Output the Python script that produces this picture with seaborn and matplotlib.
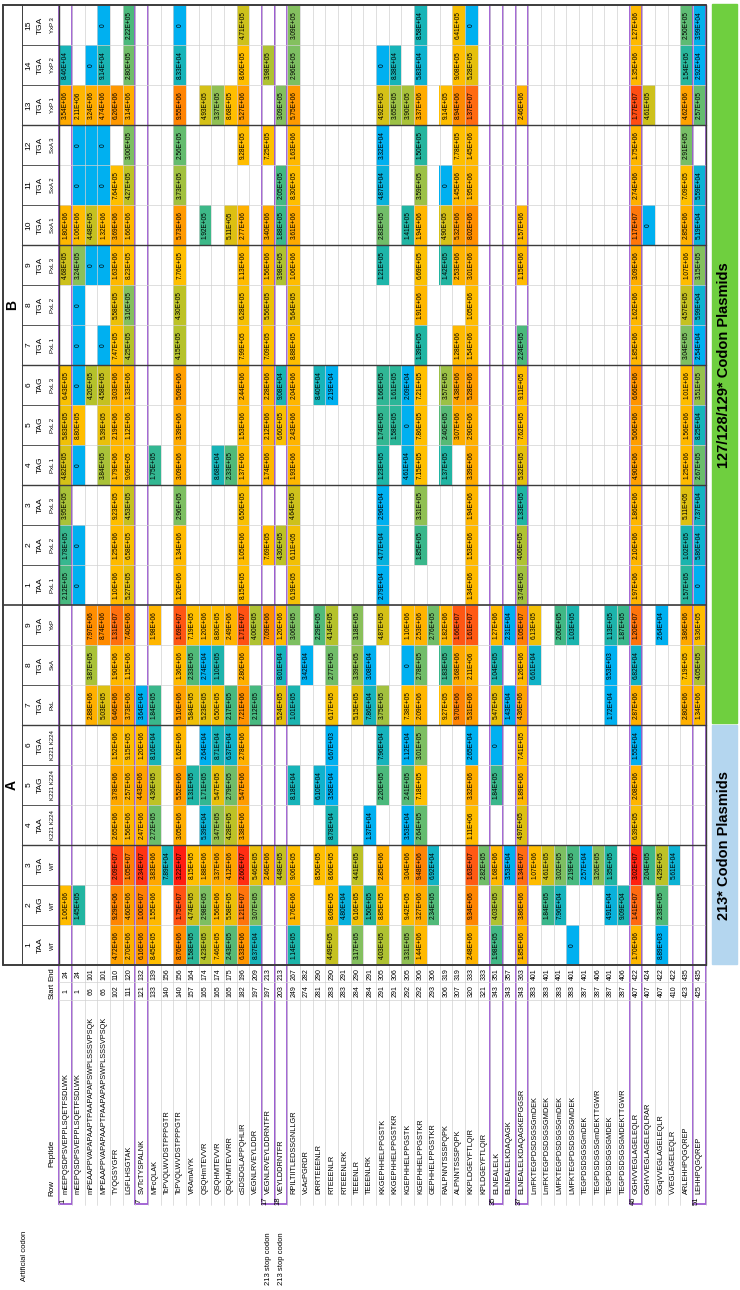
import numpy as np
import pandas as pd
import matplotlib
matplotlib.use("Agg")
import matplotlib.pyplot as plt
import seaborn as sns
from matplotlib.colors import LinearSegmentedColormap
from matplotlib.patches import Rectangle

sns.set_theme(style="white")
plt.rcParams["font.family"] = ["Liberation Sans", "DejaVu Sans"]

# ---------------------------------------------------------------
# table content
# ---------------------------------------------------------------
peptides = [
    "mEEPQSDPSVEPPLSQETFSDLWK", "mEEPQSDPSVEPPLSQETFSDLWK",
    "mPEAAPPVAPAPAAPTPAAPAPAPSWPLSSSVPSQK", "MPEAAPPVAPAPAAPTPAAPAPAPSWPLSSSVPSQK",
    "TYQGSYGFR", "LGFLHSGTAK", "SVTcTYSPALNK", "MFcQLAK",
    "TcPVQLWVDSTPPPGTR", "TcPVQLWVDSTPPPGTR", "VRAmAIYK", "QSQHmTEVVR",
    "QSQHMTEVVR", "QSQHMTEVVRR", "cSDSDGLAPPQHLIR", "VEGNLRVEYLDDR",
    "VEGNLRVEYLDDRNTFR", "VEYLDDRNTFR", "RPILTIITLEDSSGNLLGR", "VcAcPGRDR",
    "DRRTEEENLR", "RTEEENLR", "RTEEENLRK", "TEEENLR", "TEEENLRK",
    "KKGEPHHELPPGSTK", "KKGEPHHELPPGSTKR", "KGEPHHELPPGSTK", "KGEPHHELPPGSTKR",
    "GEPHHELPPGSTKR", "RALPNNTSSSPQPK", "ALPNNTSSSPQPK", "KKPLDGEYFTLQIR",
    "KPLDGEYFTLQIR", "ELNEALELK", "ELNEALELKDAQAGK", "ELNEALELKDAQAGKEPGGSR",
    "LmFKTEGPDSDSGSGmDEK", "LmFKTEGPDSDSGSGMDEK", "LMFKTEGPDSDSGSGmDEK",
    "LMFKTEGPDSDSGSGMDEK", "TEGPDSDSGSGmDEK", "TEGPDSDSGSGmDEKTTGWR",
    "TEGPDSDSGSGMDEK", "TEGPDSDSGSGMDEKTTGWR", "GGHVVEGLAGELEQLR",
    "GGHVVEGLAGELEQLRAR", "GGqVVEGLAGELEQLR", "VVEGLAGELEQLR",
    "ARLEHHPQGQREP", "LEHHPQGQREP",
]
starts = [1, 1, 66, 66, 102, 111, 121, 133, 140, 140, 157, 165, 165, 165, 182, 197,
          197, 203, 249, 274, 281, 283, 283, 284, 284, 291, 291, 292, 292, 293, 306,
          307, 320, 321, 343, 343, 343, 383, 383, 383, 383, 387, 387, 387, 387, 407,
          407, 407, 410, 423, 425]
ends = [24, 24, 101, 101, 110, 120, 132, 139, 156, 156, 164, 174, 174, 175, 196, 209,
        213, 213, 267, 282, 290, 290, 291, 290, 291, 305, 306, 305, 306, 306, 319,
        319, 333, 333, 351, 357, 363, 401, 401, 401, 401, 401, 406, 401, 406, 422,
        424, 422, 422, 435, 435]
boxed_rows = [1, 7, 17, 18, 35, 37, 46, 51]
side_notes = {17: "213 stop codon", 18: "213 stop codon"}

a_codons = ["TAA", "TAG", "TGA", "TAA", "TAG", "TGA", "TGA", "TGA", "TGA"]
a_variants = ["WT", "WT", "WT", "K221 K224", "K221 K224", "K221 K224", "PxL", "SxA", "YxP"]
b_codons = ["TAA"] * 3 + ["TAG"] * 3 + ["TGA"] * 9
b_variants = ["PxL 1", "PxL 2", "PxL 3"] * 3 + ["SxA 1", "SxA 2", "SxA 3", "YxP 1", "YxP 2", "YxP 3"]

# peptide row -> intensity, one dict per plasmid column
a1 = {5: 4.72e6, 6: 2.70e6, 7: 6.16e6, 8: 8.45e5, 10: 8.76e6, 11: 1.58e5, 12: 4.23e5,
      13: 7.46e5, 14: 2.43e5, 15: 6.33e6, 16: 8.37e4, 19: 1.14e5, 22: 4.49e5, 24: 3.17e5,
      26: 4.03e5, 28: 3.31e5, 29: 1.44e6, 33: 2.48e6, 35: 1.98e5, 37: 1.85e6, 41: 0,
      46: 1.70e6, 48: 8.89e3}
a2 = {1: 1.06e6, 2: 1.45e5, 5: 9.29e6, 6: 4.60e6, 7: 1.00e7, 8: 1.55e6, 10: 1.75e7,
      11: 4.74e5, 12: 2.98e5, 13: 1.56e6, 14: 5.58e5, 15: 1.21e7, 16: 3.07e5, 19: 1.76e6,
      22: 8.09e5, 23: 4.80e4, 24: 6.16e5, 25: 1.50e5, 26: 8.85e5, 28: 9.42e5, 29: 3.27e6,
      30: 2.34e5, 33: 9.34e6, 35: 4.03e5, 37: 3.86e6, 39: 1.84e5, 40: 7.96e4, 44: 4.91e4,
      45: 9.09e4, 46: 1.41e7, 48: 2.33e5}
a3 = {5: 2.09e7, 6: 1.05e7, 7: 2.34e7, 8: 3.83e6, 9: 7.89e4, 10: 3.22e7, 11: 8.15e5,
      12: 1.88e6, 13: 3.37e6, 14: 4.12e6, 15: 2.60e7, 16: 5.46e5, 17: 2.46e6, 18: 4.48e5,
      19: 9.06e5, 21: 8.50e5, 22: 8.60e5, 24: 4.41e5, 26: 2.85e6, 28: 3.04e6, 29: 9.48e6,
      30: 6.92e4, 33: 1.63e7, 34: 2.82e5, 35: 1.68e6, 36: 3.53e4, 37: 1.34e7, 38: 1.07e6,
      39: 4.61e5, 40: 3.02e5, 41: 2.19e5, 42: 2.57e4, 43: 3.26e5, 44: 1.35e5, 46: 3.02e7,
      47: 2.04e5, 48: 4.29e5, 49: 5.61e4}
a4 = {5: 2.65e6, 6: 1.56e6, 7: 2.47e6, 8: 2.72e5, 10: 3.05e6, 12: 5.39e4, 13: 3.47e5,
      14: 4.28e5, 15: 3.38e6, 22: 8.78e4, 25: 1.37e4, 28: 3.53e4, 29: 2.64e5, 33: 1.11e6,
      37: 4.97e5, 46: 6.39e5}
a5 = {5: 3.78e6, 6: 2.57e6, 7: 4.43e6, 8: 4.36e5, 10: 5.52e6, 11: 1.31e5, 12: 1.71e5,
      13: 5.47e5, 14: 2.79e5, 15: 5.47e6, 19: 8.18e4, 21: 6.10e4, 22: 3.58e4, 26: 2.20e5,
      28: 2.41e5, 29: 7.18e5, 33: 3.32e6, 35: 1.84e5, 37: 1.89e6, 46: 2.08e6}
a6 = {5: 1.52e6, 6: 9.15e5, 7: 1.20e6, 8: 8.16e4, 10: 1.62e6, 12: 2.64e4, 13: 8.71e4,
      14: 6.37e4, 15: 2.78e6, 22: 6.67e3, 26: 7.96e4, 28: 1.12e4, 29: 3.01e5, 33: 2.65e4,
      35: 0, 37: 7.41e5, 46: 1.55e4}
a7 = {3: 2.88e6, 4: 5.03e5, 5: 6.46e6, 6: 3.73e6, 7: 3.64e4, 8: 1.84e5, 10: 5.10e6,
      11: 5.84e5, 12: 5.23e5, 13: 6.50e5, 14: 2.17e5, 15: 7.21e6, 16: 2.12e5, 18: 5.24e5,
      19: 1.01e5, 22: 6.17e5, 24: 5.15e5, 25: 7.86e4, 26: 3.75e5, 28: 7.38e5, 29: 2.09e6,
      31: 9.27e5, 32: 9.70e6, 33: 5.31e6, 35: 5.47e5, 36: 1.43e4, 37: 4.36e6, 44: 1.72e4,
      46: 2.87e6, 50: 2.80e6, 51: 1.34e6}
a8 = {3: 3.87e5, 5: 1.90e6, 6: 1.15e6, 10: 1.36e6, 11: 2.33e5, 12: 2.74e4, 13: 1.10e5,
      15: 2.80e6, 18: 8.01e4, 20: 3.42e4, 22: 2.77e5, 24: 3.39e5, 25: 3.08e4, 28: 0,
      29: 2.78e5, 31: 1.83e5, 32: 3.68e6, 33: 2.11e6, 35: 1.04e5, 37: 1.26e6, 38: 6.61e4,
      44: 9.53e3, 46: 6.82e4, 50: 7.19e5, 51: 4.05e5}
a9 = {3: 7.97e6, 4: 8.74e6, 5: 1.31e7, 6: 7.40e6, 8: 1.98e6, 10: 1.69e7, 11: 7.19e5,
      12: 1.20e6, 13: 8.80e5, 14: 2.49e6, 15: 1.71e7, 16: 4.00e5, 17: 7.09e6, 18: 1.20e6,
      19: 3.06e5, 21: 2.29e5, 22: 4.14e5, 24: 3.18e5, 26: 4.87e5, 28: 1.10e6, 29: 2.53e6,
      30: 2.76e5, 31: 1.82e6, 32: 1.66e7, 33: 1.61e7, 35: 1.27e6, 36: 2.31e4, 37: 1.05e7,
      38: 6.13e5, 40: 2.00e5, 41: 1.03e5, 44: 1.13e5, 45: 1.87e5, 46: 1.20e7, 48: 2.64e4,
      50: 3.86e6, 51: 9.36e5}

b1 = {1: 2.12e5, 2: 0, 5: 1.10e6, 6: 5.27e5, 10: 1.20e6, 15: 8.15e5, 19: 6.19e5,
      26: 2.79e4, 33: 1.34e6, 37: 3.74e5, 46: 1.97e6, 50: 1.57e5, 51: 0}
b2 = {1: 1.78e5, 2: 0, 5: 1.25e6, 6: 6.58e5, 10: 1.34e6, 15: 1.05e6, 17: 7.69e5,
      18: 4.30e5, 19: 6.11e5, 26: 4.77e4, 29: 1.85e5, 33: 1.53e6, 37: 4.06e5, 46: 2.10e6,
      50: 1.02e5, 51: 5.86e4}
b3 = {1: 3.95e5, 5: 9.23e5, 6: 4.53e5, 10: 2.96e5, 15: 6.50e5, 19: 4.64e5, 26: 2.96e4,
      29: 3.31e5, 33: 1.94e6, 37: 1.33e5, 46: 1.86e6, 50: 5.11e5, 51: 7.37e4}
b4 = {1: 4.82e5, 2: 0, 4: 3.84e5, 5: 1.79e6, 6: 9.09e5, 8: 1.75e5, 10: 3.09e6,
      13: 8.68e4, 14: 2.33e5, 15: 1.37e6, 17: 1.74e6, 19: 1.93e6, 26: 1.23e5, 28: 4.61e4,
      29: 7.15e5, 31: 1.37e5, 33: 3.39e6, 37: 5.32e5, 46: 4.90e6, 50: 1.25e6, 51: 2.67e5}
b5 = {1: 5.83e5, 2: 8.80e5, 4: 5.39e5, 5: 2.19e6, 6: 1.12e6, 10: 3.39e6, 15: 1.53e6,
      17: 2.12e6, 18: 6.60e5, 19: 2.43e6, 26: 1.74e5, 27: 1.58e5, 28: 0, 29: 7.86e5,
      31: 2.40e5, 32: 3.07e6, 33: 2.90e6, 37: 7.62e5, 46: 5.06e6, 50: 1.56e6, 51: 8.25e4}
b6 = {1: 6.43e5, 2: 0, 3: 4.20e5, 4: 4.58e5, 5: 3.03e6, 6: 1.33e6, 10: 5.09e6,
      15: 2.44e6, 17: 2.28e6, 18: 9.08e4, 19: 2.04e6, 21: 8.40e4, 22: 2.19e4, 26: 1.66e5,
      27: 1.61e5, 28: 2.09e4, 29: 7.21e5, 31: 3.57e5, 32: 4.38e6, 33: 5.28e6, 37: 9.11e5,
      46: 6.66e6, 50: 1.01e6, 51: 3.51e5}
b7 = {2: 0, 4: 0, 5: 7.47e5, 6: 4.25e5, 10: 4.15e5, 15: 7.99e5, 17: 7.09e5, 19: 8.88e5,
      29: 1.39e5, 32: 1.28e6, 33: 1.54e6, 37: 2.24e5, 46: 1.85e6, 50: 3.04e5, 51: 2.54e4}
b8 = {2: 0, 5: 5.58e5, 6: 3.16e5, 10: 4.30e5, 15: 6.28e5, 17: 5.56e5, 19: 5.64e5,
      29: 1.91e6, 33: 1.05e6, 46: 1.62e6, 50: 4.57e5, 51: 5.99e4}
b9 = {1: 4.68e5, 2: 3.24e5, 3: 0, 4: 0, 5: 1.63e6, 6: 8.23e5, 10: 7.76e5, 15: 1.13e6,
      17: 1.56e6, 18: 3.98e5, 19: 1.06e6, 26: 1.21e5, 29: 6.69e5, 31: 1.42e5, 32: 2.53e6,
      33: 3.01e6, 37: 1.15e6, 46: 3.09e6, 50: 1.07e6, 51: 3.15e5}
b10 = {1: 1.80e6, 2: 1.06e6, 3: 4.48e5, 4: 1.32e6, 5: 3.69e6, 6: 1.66e6, 10: 5.73e6,
       12: 1.92e5, 14: 5.11e5, 15: 2.77e6, 17: 3.40e6, 18: 1.88e5, 19: 3.61e6,
       26: 2.83e5, 28: 1.41e5, 29: 1.94e6, 31: 4.90e5, 32: 5.32e6, 33: 8.02e6,
       37: 1.57e6, 46: 1.17e7, 47: 0, 50: 2.85e6, 51: 5.19e4}
b11 = {2: 0, 3: 0, 4: 0, 5: 7.64e5, 6: 4.27e5, 10: 3.73e5, 18: 2.05e5, 19: 8.30e5,
       26: 4.87e4, 29: 3.59e5, 31: 0, 32: 1.45e6, 33: 1.95e6, 46: 2.74e6, 50: 7.09e5,
       51: 5.59e4}
b12 = {2: 0, 3: 0, 4: 0, 6: 3.00e5, 10: 2.56e5, 15: 9.28e5, 17: 7.25e5, 19: 1.63e6,
       26: 3.32e4, 29: 1.50e5, 32: 7.78e5, 33: 1.45e6, 46: 1.75e6, 50: 2.91e5}
b13 = {1: 3.54e6, 2: 2.11e6, 3: 3.24e6, 4: 4.74e6, 5: 6.26e6, 6: 3.14e6, 10: 9.55e6,
       12: 4.93e5, 13: 3.37e5, 14: 8.68e5, 15: 5.27e6, 18: 3.09e5, 19: 5.75e6,
       26: 4.92e5, 27: 3.65e5, 28: 3.90e5, 29: 3.37e6, 31: 9.14e5, 32: 8.94e6,
       33: 1.37e7, 37: 2.46e6, 46: 1.77e7, 47: 4.61e5, 50: 4.62e6, 51: 2.57e5}
b14 = {1: 8.46e4, 3: 0, 4: 9.14e4, 6: 2.80e5, 10: 8.33e4, 15: 8.60e5, 17: 3.98e5,
       19: 2.96e5, 26: 0, 27: 8.38e4, 29: 5.83e4, 32: 9.08e5, 33: 5.28e5, 46: 1.35e6,
       50: 1.54e5, 51: 2.92e4}
b15 = {4: 0, 6: 2.22e5, 10: 0, 15: 4.71e5, 19: 3.09e5, 29: 8.58e4, 32: 6.41e5, 33: 0,
       46: 1.27e6, 50: 2.50e5, 51: 3.99e4}

# zero cells that carry no printed label in the source table
unlabelled_zero = [("B", 11, 3), ("B", 12, 3)]

a_cols = [a1, a2, a3, a4, a5, a6, a7, a8, a9]
b_cols = [b1, b2, b3, b4, b5, b6, b7, b8, b9, b10, b11, b12, b13, b14, b15]

# ---------------------------------------------------------------
# matrix for the heatmap (top = B15, bottom = A1; one column per peptide)
# ---------------------------------------------------------------
n = len(peptides)
order = [("B", k, b_cols[k - 1]) for k in range(15, 0, -1)] + \
        [("A", k, a_cols[k - 1]) for k in range(9, 0, -1)]
logv = np.full((len(order), n), np.nan)
labels = np.full((len(order), n), "", dtype=object)
for i, (g, k, col) in enumerate(order):
    for r, v in col.items():
        logv[i, r - 1] = np.log10(v) if v > 0 else 3.6
        if (g, k, r) not in unlabelled_zero:
            labels[i, r - 1] = "0" if v == 0 else f"{v:.2E}"
df = pd.DataFrame(logv, index=[f"{g}{k}" for g, k, _ in order], columns=range(1, n + 1))

vmin, vmax = 3.5, 7.6
stops = [(3.5, "#00b0f0"), (4.55, "#00b0f0"), (4.95, "#19b4b4"), (5.15, "#21b5a2"),
         (5.35, "#4bb97c"), (5.5, "#86c05e"), (5.62, "#b4c22c"), (5.72, "#e6c00c"),
         (5.85, "#ffc000"), (6.4, "#ffb400"), (6.7, "#ffa000"), (6.95, "#ff8a00"),
         (7.15, "#ff6a12"), (7.33, "#ff3c14"), (7.6, "#ff1010")]
cmap = LinearSegmentedColormap.from_list(
    "intensity", [((v - vmin) / (vmax - vmin), c) for v, c in stops])

# ---------------------------------------------------------------
# geometry (pixel coordinates, origin top-left)
# ---------------------------------------------------------------
W, H = 740, 1290
X0, RW = 59.4, 12.67
X1 = X0 + n * RW
TOP, BOT = 5, 965
CH = 40


def col_top(g, k):
    return (BOT - CH * k) if g == "A" else (605 - CH * k)


fig = plt.figure(figsize=(W / 100, H / 100), dpi=100)
fig.patch.set_facecolor("white")

ax = fig.add_axes([X0 / W, (H - BOT) / H, (X1 - X0) / W, (BOT - TOP) / H])
sns.heatmap(df, ax=ax, cmap=cmap, vmin=vmin, vmax=vmax, cbar=False,
            annot=labels, fmt="", xticklabels=False, yticklabels=False,
            annot_kws=dict(rotation=90, fontsize=4.7, color="black"))
ax.set_xlabel("")
ax.set_ylabel("")

ov = fig.add_axes([0, 0, 1, 1])
ov.set_xlim(0, W)
ov.set_ylim(H, 0)
ov.axis("off")

grid = "#d2d2d2"
dark = "#3c3c3c"

# row separators
for i in range(n + 1):
    x = X0 + i * RW
    ov.plot([x, x], [TOP, 1205], color=grid, lw=0.5)
# column separators across the data
for m in range(25):
    y = TOP + m * CH
    ov.plot([X0, X1], [y, y], color=grid, lw=0.5)
    ov.plot([22, X0], [y, y], color=dark, lw=0.6)
for y in (982, 1000):
    ov.plot([X0, X1], [y, y], color=grid, lw=0.5)
# group separators
for y in (125, 245, 365, 485, 725, 845):
    ov.plot([22, X1], [y, y], color=dark, lw=1.0)
ov.plot([3, X1], [605, 605], color=dark, lw=1.2)
ov.plot([3, X1], [TOP, TOP], color=dark, lw=1.4)
ov.plot([3, X1], [BOT, BOT], color=dark, lw=1.4)
ov.plot([3, 3], [TOP, BOT], color=dark, lw=1.4)
ov.plot([22, 22], [TOP, BOT], color=dark, lw=0.7)
ov.plot([X0, X0], [TOP, BOT], color=dark, lw=1.0)
ov.plot([X1, X1], [TOP, BOT], color=dark, lw=1.0)

# column headers
hdr = dict(rotation=90, ha="center", va="center", color="black")
for g, codons, variants in (("A", a_codons, a_variants), ("B", b_codons, b_variants)):
    for k in range(1, len(codons) + 1):
        yc = col_top(g, k) + CH / 2
        ov.text(29, yc, str(k), fontsize=6, **hdr)
        ov.text(40, yc, codons[k - 1], fontsize=6, **hdr)
        ov.text(52, yc, variants[k - 1], fontsize=4.3, **hdr)
ov.text(12, 785, "A", fontsize=10, fontweight="bold", **hdr)
ov.text(12, 305, "B", fontsize=10, fontweight="bold", **hdr)

# peptide block
ov.text(52, 974, "End", fontsize=5.5, **hdr)
ov.text(52, 991, "Start", fontsize=5.5, **hdr)
ov.text(52, 1153, "Peptide", fontsize=5.8, **hdr)
ov.text(52, 1188, "Row", fontsize=5.8, **hdr)
for i in range(n):
    xc = X0 + (i + 0.5) * RW
    ov.text(xc, 974, str(ends[i]), fontsize=5, **hdr)
    ov.text(xc, 991, str(starts[i]), fontsize=5, **hdr)
    ov.text(xc, 1194, peptides[i], fontsize=5.3, rotation=90, ha="center",
            va="bottom", color="black")
for r in boxed_rows:
    x = X0 + (r - 1) * RW
    ov.add_patch(Rectangle((x, TOP), RW, 1199, fill=False, edgecolor="#9d5bd2", lw=1.3))
    ov.text(x + RW / 2 - 3, 1201, str(r), fontsize=5.5, **hdr)
for r, note in side_notes.items():
    ov.text(X0 + (r - 0.5) * RW, 1259, note, fontsize=5.5, **hdr)
ov.text(25, 1256, "Artificial codon", fontsize=5.5, **hdr)

# plasmid bands on the right
ov.add_patch(Rectangle((712, 725), 25, 239, color="#b4d6ef"))
ov.add_patch(Rectangle((712, 4), 25, 719, color="#6fcf3f"))
ov.text(724.5, 846, "213* Codon Plasmids", fontsize=10.5, fontweight="bold", **hdr)
ov.text(724.5, 365, "127/128/129* Codon Plasmids", fontsize=10.5, fontweight="bold", **hdr)

fig.savefig("out.png", dpi=100, facecolor="white")
